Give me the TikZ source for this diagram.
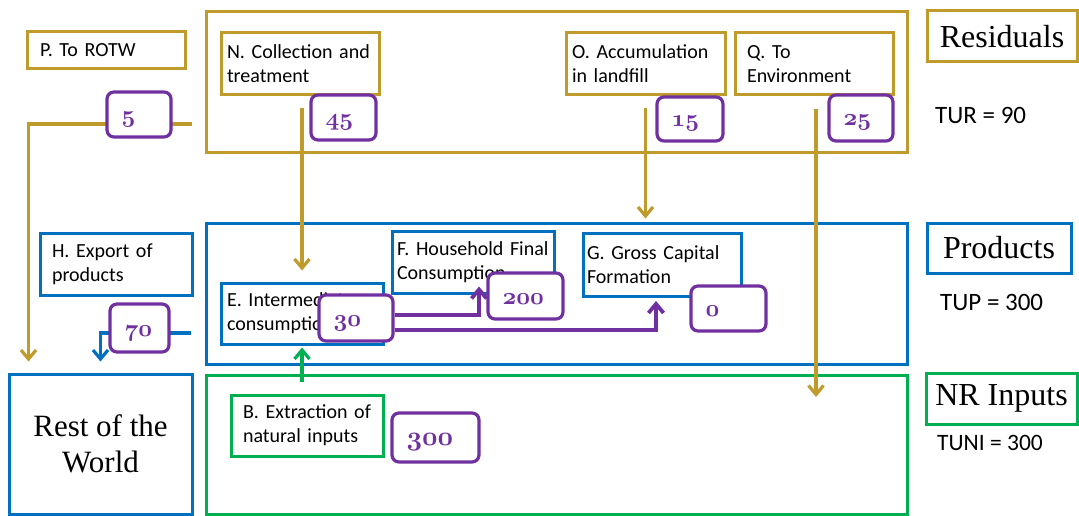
\RequirePackage{fix-cm}
\documentclass[tikz,border=0pt]{standalone}
\usepackage{fontspec}
\usepackage{tikz}
\usetikzlibrary{arrows.meta}

\newfontfamily\calfont{Carlito}
\newfontfamily\titlefont{Liberation Serif}
\newcommand{\osnum}[1]{{\usefont{OML}{cmm}{b}{it}#1}}

\definecolor{resgold}{RGB}{191,155,43}
\definecolor{prodblue}{RGB}{0,112,192}
\definecolor{nrgreen}{RGB}{0,176,80}
\definecolor{numpurple}{RGB}{112,48,160}

\tikzset{
  area/.style={draw, line width=3pt},
  lbl/.style={draw, line width=3pt, fill=white, align=left, inner ysep=0pt,
    font=\calfont\fontsize{20}{24}\selectfont},
  num/.style={draw=numpurple, text=numpurple, fill=white, line width=3.2pt,
    rounded corners=7pt, align=left, inner xsep=14.5pt, inner ysep=0pt,
    text height=18pt, text depth=2pt, font=\fontsize{24}{24}\selectfont},
  tag/.style={draw, line width=3pt, inner sep=0pt, font=\titlefont\fontsize{32}{32}\selectfont},
  tot/.style={anchor=west, inner sep=0pt, font=\calfont\fontsize{25}{25}\selectfont},
  flow/.style={line width=3.2pt, -{Straight Barb[length=9pt,width=15pt]}},
}

\begin{document}
\begin{tikzpicture}[x=1pt, y=-1pt]
  \useasboundingbox (0,0) rectangle (1079,516);

  % the three accounts
  \node[area, draw=resgold, minimum width=701, minimum height=141] (Res) at (556.5,82.5) {};
  \node[area, draw=prodblue, minimum width=701, minimum height=141] (Prod) at (556.5,293.5) {};
  \node[area, draw=nrgreen, minimum width=701, minimum height=139] (NR) at (556.5,444.5) {};

  \node[area, draw=prodblue, minimum width=183, minimum height=140, align=center,
    inner sep=0pt, font=\titlefont\fontsize{31}{36}\selectfont] (RotW) at (100.5,444) {Rest of the\\World};

  % residual flows
  \node[lbl, draw=resgold, inner xsep=13pt, text width=132pt, minimum height=37] (P) at (106,50.5) {P. To ROTW};
  \node[lbl, draw=resgold, inner xsep=6pt, text width=146pt, minimum height=62] (N) at (300,64) {N. Collection and\\treatment};
  \node[lbl, draw=resgold, inner xsep=6pt, text width=147pt, minimum height=62] (O) at (645.5,64) {O. Accumulation\\in landfill};
  \node[lbl, draw=resgold, inner xsep=12pt, text width=134pt, minimum height=62] (Q) at (814,64) {Q. To\\Environment};

  % product flows
  \node[lbl, draw=prodblue, inner xsep=12pt, text width=128pt, minimum height=62] (H) at (116,264) {H. Export of\\products};
  \node[lbl, draw=prodblue, inner xsep=6pt, text width=150pt, minimum height=61] (E) at (302,313.5) {E. Intermediate\\consumption};
  \node[lbl, draw=prodblue, inner xsep=5pt, text width=152pt, minimum height=62] (F) at (473,262) {F. Household Final\\Consumption};
  \node[lbl, draw=prodblue, inner xsep=4pt, text width=150pt, minimum height=63] (G) at (662,264.5) {G. Gross Capital\\Formation};

  % natural inputs
  \node[lbl, draw=nrgreen, inner xsep=12pt, text width=128pt, minimum height=61] (B) at (307,425.5) {B. Extraction of\\natural inputs};

  % arrows
  \coordinate (p5) at (192,124);
  \coordinate (p70) at (191,333);
  \coordinate (qend) at (816,397);
  \draw[flow, resgold, shorten >=11pt] (p5) -| ([xshift=21pt]RotW.north west);
  \draw[flow, resgold, shorten <=12pt, shorten >=11pt] (N.south -| E.north) -- (E.north);
  \draw[flow, resgold, shorten <=12pt, shorten >=3pt] (O.south) -- (O.south |- Prod.north);
  \draw[flow, resgold, shorten <=13pt] (Q.south -| qend) -- (qend);
  \draw[flow, prodblue, shorten >=11pt] (p70) -| (RotW.north);
  \draw[flow, nrgreen, shorten <=-8pt, shorten >=2pt] (E.south |- NR.north) -- (E.south);

  % amounts
  \node[num, text width=35pt, minimum height=45] (n5) at (139,114.5) {\osnum{5}};
  \node[num, text width=36pt, minimum height=45] (n45) at (343.5,117.5) {\osnum{45}};
  \node[num, text width=37pt, minimum height=44] (n15) at (690,119) {\osnum{15}};
  \node[num, text width=35pt, minimum height=46] (n25) at (861,118) {\osnum{25}};
  \node[num, text width=30pt, minimum height=48] (n70) at (139.5,328) {\osnum{70}};
  \node[num, text width=45pt, minimum height=46] (n30) at (356,318) {\osnum{30}};
  \draw[flow, numpurple, line width=3.8pt] (n30.east |- 0,315) -| ([xshift=6pt,yshift=8pt]F.south);
  \draw[flow, numpurple, line width=3.8pt] (n30.east |- 0,330) -| ([xshift=-6pt,yshift=-3.5pt]G.south);
  \node[num, text width=46pt, minimum height=46] (n200) at (525.5,296) {\osnum{200}};
  \node[num, text width=46pt, minimum height=45] (n0) at (728.5,308.5) {\osnum{0}};
  \node[num, text width=58pt, minimum height=49, font=\fontsize{27}{27}\selectfont] (n300) at (435.5,437.5) {\osnum{300}};

  % account names and totals
  \node[tag, draw=resgold, minimum width=150, minimum height=51] (tRes) at (1002,36.5) {Residuals};
  \node[tag, draw=prodblue, minimum width=144, minimum height=50] (tProd) at (999,248) {Products};
  \node[tag, draw=nrgreen, minimum width=151, minimum height=51] (tNR) at (1001.5,398.5) {NR Inputs};
  \node[tot] (TUR) at (935,115) {TUR = 90};
  \node[tot] (TUP) at (940,302) {TUP = 300};
  \node[tot, font=\calfont\fontsize{23.5}{24}\selectfont] (TUNI) at (937,443) {TUNI = 300};
\end{tikzpicture}
\end{document}
